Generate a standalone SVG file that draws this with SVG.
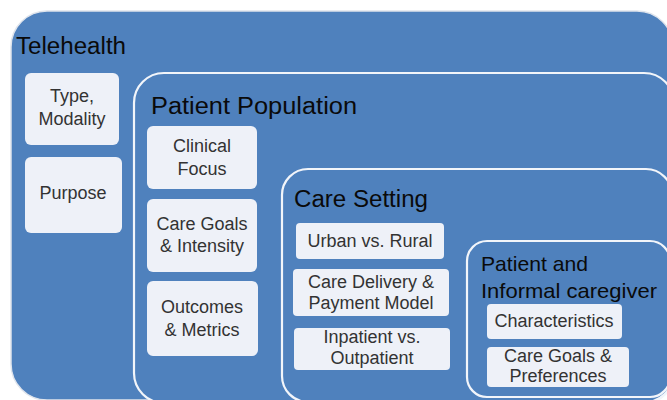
<svg xmlns="http://www.w3.org/2000/svg" width="667" height="400" viewBox="0 0 667 400">
<style>
.cont{fill:#4f81bd;stroke:#f2f5fa;stroke-width:2.2}
.outer{fill:#4f81bd;stroke:#dfe4ec;stroke-width:1.5}
.box{fill:#eef1f8;stroke:none}
.title{font-family:"Liberation Sans",Arial,sans-serif;fill:#0a0a0a}
.lbl{font-family:"Liberation Sans",Arial,sans-serif;font-size:18px;fill:#333;text-anchor:middle}
</style>
<rect width="667" height="400" fill="#ffffff"/>
<g id="telehealth">
<rect class="outer" x="11" y="11" width="662" height="389" rx="36"/>
<text class="title" x="16" y="54" font-size="23" textLength="110" lengthAdjust="spacingAndGlyphs">Telehealth</text>
</g>
<g id="type-modality">
<rect class="box" x="25" y="73" width="94" height="72" rx="6"/>
<text class="lbl" x="72" y="102">Type,</text>
<text class="lbl" x="72" y="125">Modality</text>
</g>
<g id="purpose">
<rect class="box" x="25" y="157" width="97" height="76" rx="6"/>
<text class="lbl" x="73" y="199">Purpose</text>
</g>
<g id="patient-population">
<rect class="cont" x="134" y="73" width="540" height="330" rx="30"/>
<text class="title" x="151" y="114" font-size="23" textLength="206" lengthAdjust="spacingAndGlyphs">Patient Population</text>
</g>
<g id="clinical-focus">
<rect class="box" x="147" y="126" width="110" height="63" rx="6"/>
<text class="lbl" x="202" y="152">Clinical</text>
<text class="lbl" x="202" y="175">Focus</text>
</g>
<g id="care-goals-intensity">
<rect class="box" x="147" y="199" width="110" height="73" rx="6"/>
<text class="lbl" x="202" y="230">Care Goals</text>
<text class="lbl" x="202" y="252">&amp; Intensity</text>
</g>
<g id="outcomes-metrics">
<rect class="box" x="147" y="281" width="111" height="75" rx="6"/>
<text class="lbl" x="202" y="313">Outcomes</text>
<text class="lbl" x="202" y="336">&amp; Metrics</text>
</g>
<g id="care-setting">
<rect class="cont" x="282" y="169" width="390" height="233" rx="26"/>
<text class="title" x="294" y="207" font-size="23" textLength="134" lengthAdjust="spacingAndGlyphs">Care Setting</text>
</g>
<g id="urban-rural">
<rect class="box" x="296" y="223" width="148" height="36" rx="4"/>
<text class="lbl" x="370" y="247">Urban vs. Rural</text>
</g>
<g id="care-delivery">
<rect class="box" x="293" y="269" width="156" height="47" rx="4"/>
<text class="lbl" x="371" y="288">Care Delivery &amp;</text>
<text class="lbl" x="371" y="309">Payment Model</text>
</g>
<g id="inpatient-outpatient">
<rect class="box" x="294" y="328" width="156" height="42" rx="4"/>
<text class="lbl" x="372" y="343">Inpatient vs.</text>
<text class="lbl" x="372" y="364">Outpatient</text>
</g>
<g id="patient-caregiver">
<rect class="cont" x="467" y="241" width="203" height="156" rx="20"/>
<text class="title" x="481" y="271" font-size="21" textLength="107" lengthAdjust="spacingAndGlyphs">Patient and</text>
<text class="title" x="481" y="298" font-size="21" textLength="176" lengthAdjust="spacingAndGlyphs">Informal caregiver</text>
</g>
<g id="characteristics">
<rect class="box" x="487" y="304" width="135" height="35" rx="4"/>
<text class="lbl" x="554" y="327">Characteristics</text>
</g>
<g id="care-goals-preferences">
<rect class="box" x="487" y="347" width="142" height="40" rx="4"/>
<text class="lbl" x="558" y="382" dy="-20">Care Goals &amp;</text>
<text class="lbl" x="558" y="382">Preferences</text>
</g>
<g id="connectors"></g>
</svg>
